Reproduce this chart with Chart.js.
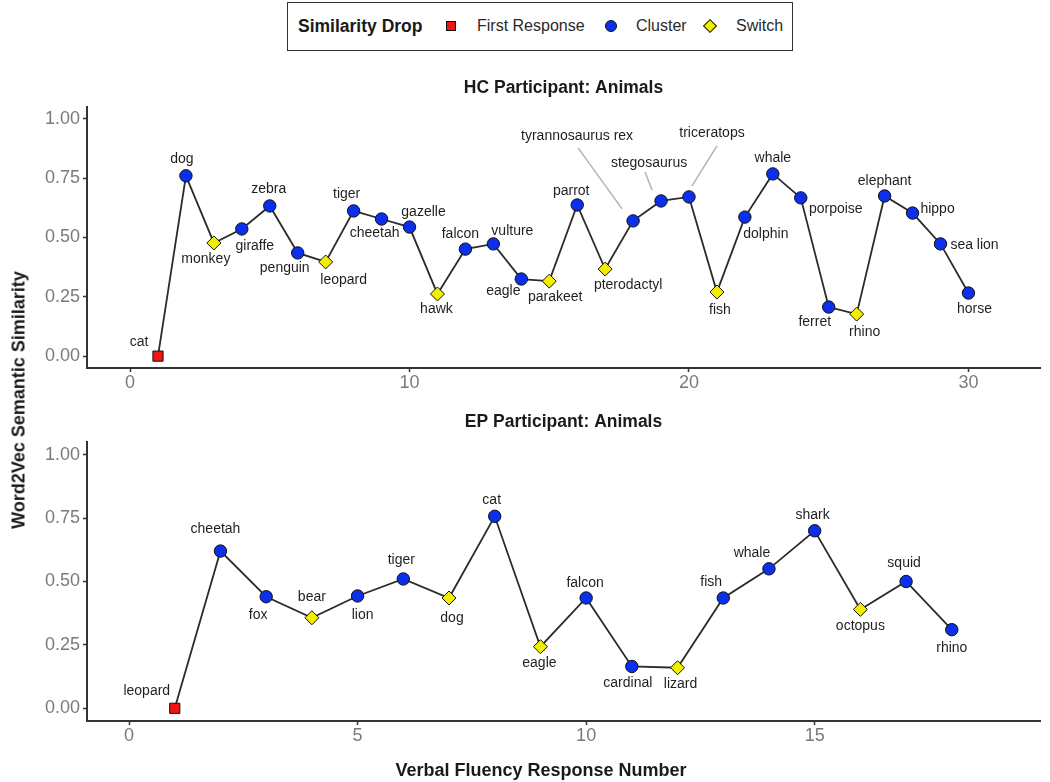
<!DOCTYPE html>
<html>
<head>
<meta charset="utf-8">
<script src="https://cdn.jsdelivr.net/npm/chart.js@4.4.1/dist/chart.umd.min.js"></script>
<style>
html,body{margin:0;padding:0;background:#fff;}
body{width:1050px;height:782px;position:relative;overflow:hidden;font-family:"Liberation Sans",Arial,sans-serif;}
canvas{position:absolute;left:0;}
#c1{top:60px;}
#c2{top:400px;}
.abs{position:absolute;white-space:nowrap;}
#legendBox{left:287px;top:2px;width:506px;height:49px;border:1.5px solid #333;box-sizing:border-box;}
.ltxt{top:26px;transform:translateY(-50%);font-size:16px;color:#2a2a2a;}
.lhead{top:26px;transform:translateY(-50%);font-size:17.5px;font-weight:bold;color:#1a1a1a;}
.mk{border:1px solid #111;box-sizing:border-box;}
.axTitle{font-size:18px;font-weight:bold;color:#1a1a1a;}
</style>
</head>
<body>
<div id="legendBox" class="abs"></div>
<div class="abs lhead" style="left:298px;">Similarity Drop</div>
<div class="abs mk" style="left:446px;top:21px;width:10px;height:10px;background:#f01515;"></div>
<div class="abs ltxt" style="left:477px;">First Response</div>
<div class="abs mk" style="left:605px;top:20px;width:12px;height:12px;border-radius:50%;background:#0b2fea;"></div>
<div class="abs ltxt" style="left:636px;">Cluster</div>
<div class="abs mk" style="left:705px;top:21px;width:10px;height:10px;background:#f2ee00;transform:rotate(45deg);"></div>
<div class="abs ltxt" style="left:736px;">Switch</div>

<canvas id="c1" width="1050" height="340"></canvas>
<canvas id="c2" width="1050" height="382"></canvas>

<div class="abs axTitle" style="left:19px;top:400px;transform:translate(-50%,-50%) rotate(-90deg);">Word2Vec Semantic Similarity</div>
<div class="abs axTitle" style="left:541px;top:770px;transform:translate(-50%,-50%);">Verbal Fluency Response Number</div>

<script>
// ---------- DATA ----------
const hcResponse = [1,2,3,4,5,6,7,8,9,10,11,12,13,14,15,16,17,18,19,20,21,22,23,24,25,26,27,28,29,30];
const hcWords = ["cat","dog","monkey","giraffe","zebra","penguin","leopard","tiger","cheetah","gazelle",
  "hawk","falcon","vulture","eagle","parakeet","parrot","pterodactyl","tyrannosaurus rex","stegosaurus","triceratops",
  "fish","dolphin","whale","porpoise","ferret","rhino","elephant","hippo","sea lion","horse"];
const hcSimilarity = [0.00,0.76,0.477,0.536,0.633,0.435,0.397,0.612,0.578,0.544,
  0.262,0.451,0.473,0.325,0.316,0.637,0.367,0.57,0.654,0.671,
  0.27,0.586,0.768,0.667,0.207,0.177,0.675,0.603,0.473,0.266];
const hcDrop = ["First Response","Cluster","Switch","Cluster","Cluster","Cluster","Switch","Cluster","Cluster","Cluster",
  "Switch","Cluster","Cluster","Cluster","Switch","Cluster","Switch","Cluster","Cluster","Cluster",
  "Switch","Cluster","Cluster","Cluster","Cluster","Switch","Cluster","Cluster","Cluster","Cluster"];

const epResponse = [1,2,3,4,5,6,7,8,9,10,11,12,13,14,15,16,17,18];
const epWords = ["leopard","cheetah","fox","bear","lion","tiger","dog","cat","eagle","falcon",
  "cardinal","lizard","fish","whale","shark","octopus","squid","rhino"];
const epSimilarity = [0.00,0.62,0.44,0.357,0.443,0.51,0.435,0.757,0.243,0.435,
  0.165,0.16,0.435,0.55,0.70,0.39,0.50,0.31];
const epDrop = ["First Response","Cluster","Cluster","Switch","Cluster","Cluster","Switch","Cluster","Switch","Cluster",
  "Cluster","Switch","Cluster","Cluster","Cluster","Switch","Cluster","Cluster"];

const hcXTicks = [0,10,20,30];
const epXTicks = [0,5,10,15];
const yTicks = [0,0.25,0.5,0.75,1.0];

// ---------- LABEL PLACEMENT (pixel offsets from each point) ----------
const hcLabelOffsets = [[-19,-14],[-4,-17],[-8,16],[13,17],[-1,-17],[-13,15],[18,18],[-7,-17],[-7,14],[14,-15],
  [-1,15],[-5,-15],[19,-13],[-18,12],[6,16],[-6,-14],[23,16],[-56,-85],[-12,-38],[23,-64],
  [3,18],[21,17],[0,-16],[35,11],[-14,15],[8,18],[0,-15],[25,-4],[34,1],[6,16]];
const hcLeaders = {17:[-55,-73,-11,-12], 18:[-16,-29,-9,-11], 19:[28,-51,3,-11]};
const epLabelOffsets = [[-28,-17],[-5,-22],[-8,18],[0,-21],[5,19],[-2,-19],[3,20],[-3,-16],[-1,16],[-1,-15],
  [-4,17],[3,16],[-12,-16],[-17,-16],[-2,-16],[0,17],[-2,-18],[0,18]];
const epLeaders = {};

// ---------- STYLES ----------
const FONT = '"Liberation Sans", Arial, sans-serif';
const dropStyle = {
  "First Response": {shape:'rect', radius:7.2, color:'#f01515'},
  "Cluster": {shape:'circle', radius:6.2, color:'#0b2fea'},
  "Switch": {shape:'rectRot', radius:7, color:'#f2ee00'}
};

function labelPlugin(words, offsets, leaders){
  return {
    id: 'wordLabels',
    beforeDatasetsDraw(chart){
      const ctx = chart.ctx, meta = chart.getDatasetMeta(0);
      ctx.save();
      ctx.strokeStyle = '#b5b5b5'; ctx.lineWidth = 1.6;
      Object.keys(leaders).forEach(k => {
        const p = meta.data[k], L = leaders[k];
        ctx.beginPath(); ctx.moveTo(p.x + L[0], p.y + L[1]); ctx.lineTo(p.x + L[2], p.y + L[3]); ctx.stroke();
      });
      ctx.restore();
    },
    afterDatasetsDraw(chart){
      const ctx = chart.ctx, meta = chart.getDatasetMeta(0);
      ctx.save();
      ctx.font = '14px ' + FONT;
      ctx.fillStyle = '#1f1f1f';
      ctx.textAlign = 'center';
      ctx.textBaseline = 'middle';
      meta.data.forEach((p, i) => ctx.fillText(words[i], p.x + offsets[i][0], p.y + offsets[i][1]));
      ctx.restore();
    }
  };
}

function makeChart(id, title, xs, ys, kinds, words, offsets, leaders, xMin, xMax, xTicks, titlePad, xAxisH){
  const pts = xs.map((x, i) => ({x: x, y: ys[i]}));
  return new Chart(document.getElementById(id), {
    type: 'line',
    data: { datasets: [{
      data: pts,
      borderColor: '#2b2b2b',
      borderWidth: 1.8,
      tension: 0,
      clip: false,
      pointStyle: kinds.map(k => dropStyle[k].shape),
      pointRadius: kinds.map(k => dropStyle[k].radius),
      pointBackgroundColor: kinds.map(k => dropStyle[k].color),
      pointBorderColor: '#111',
      pointBorderWidth: 1,
      pointHoverRadius: kinds.map(k => dropStyle[k].radius)
    }]},
    options: {
      responsive: false,
      animation: false,
      events: [],
      layout: { padding: {left: 0, right: 10, top: 0, bottom: 0} },
      plugins: {
        legend: {display: false},
        tooltip: {enabled: false},
        title: {
          display: true, text: title, fullSize: false,
          font: {family: FONT, size: 17.5, weight: 'bold'}, color: '#1a1a1a',
          padding: titlePad
        }
      },
      scales: {
        x: {
          type: 'linear', min: xMin, max: xMax,
          afterBuildTicks: s => { s.ticks = xTicks.map(v => ({value: v})); },
          afterFit: s => { s.height = xAxisH; },
          grid: {display: true, drawOnChartArea: false, drawTicks: true, tickLength: 4, tickColor: '#333', tickWidth: 1.5},
          border: {display: true, color: '#333', width: 2},
          ticks: {font: {family: FONT, size: 18}, color: '#7a7a7a', padding: 0, maxRotation: 0, callback: v => String(v)}
        },
        y: {
          type: 'linear', min: -0.05, max: 1.05,
          afterBuildTicks: s => { s.ticks = yTicks.map(v => ({value: v})); },
          afterFit: s => { s.width = 87; },
          grid: {display: true, drawOnChartArea: false, drawTicks: true, tickLength: 4, tickColor: '#333', tickWidth: 1.5},
          border: {display: true, color: '#333', width: 2},
          ticks: {font: {family: FONT, size: 18}, color: '#7a7a7a', padding: 3, callback: v => Number(v).toFixed(2)}
        }
      }
    },
    plugins: [labelPlugin(words, offsets, leaders)]
  });
}

makeChart('c1', 'HC Participant: Animals', hcResponse, hcSimilarity, hcDrop, hcWords, hcLabelOffsets, hcLeaders,
  -1.54, 32.56, hcXTicks, {top: 17.5, bottom: 8.5}, 32);
makeChart('c2', 'EP Participant: Animals', epResponse, epSimilarity, epDrop, epWords, epLabelOffsets, epLeaders,
  -0.92, 19.93, epXTicks, {top: 11.5, bottom: 9.5}, 61);
</script>
</body>
</html>
